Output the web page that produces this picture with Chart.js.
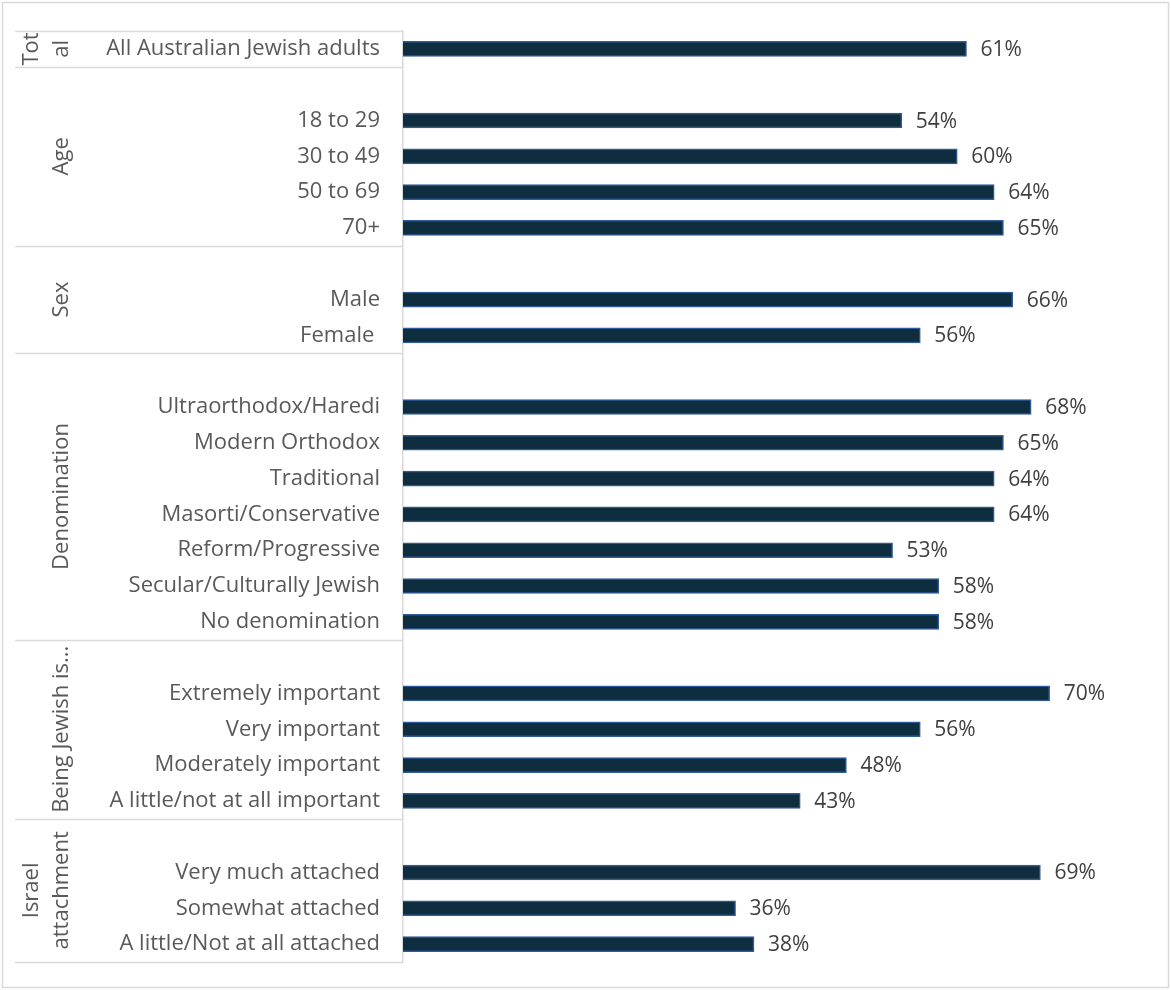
<!DOCTYPE html>
<html lang="en">
<head>
    <meta charset="UTF-8">
    <title>Attachment by group</title>
    <style>
        body { margin: 0; background: #ffffff; }
        #wrap { position: relative; width: 1171px; height: 990px; }
    </style>
</head>
<body>
    <div id="wrap">
        <canvas id="barChart" width="1171" height="990"></canvas>
    </div>

    <script src="https://cdn.jsdelivr.net/npm/chart.js"></script>

    <script>
        // one row per bar, '' / null for the spacer rows between groups
        const categories = [
            'All Australian Jewish adults',
            '', '18 to 29', '30 to 49', '50 to 69', '70+',
            '', 'Male', 'Female ',
            '', 'Ultraorthodox/Haredi', 'Modern Orthodox', 'Traditional', 'Masorti/Conservative',
            'Reform/Progressive', 'Secular/Culturally Jewish', 'No denomination',
            '', 'Extremely important', 'Very important', 'Moderately important', 'A little/not at all important',
            '', 'Very much attached', 'Somewhat attached', 'A little/Not at all attached'
        ];
        const values = [
            61,
            null, 54, 60, 64, 65,
            null, 66, 56,
            null, 68, 65, 64, 64, 53, 58, 58,
            null, 70, 56, 48, 43,
            null, 69, 36, 38
        ];
        // group labels (each inner array = wrapped lines) and how many rows each group spans
        const groupNames = [['Tot', 'al'], ['Age'], ['Sex'], ['Denomination'], ['Being Jewish is...'], ['Israel', 'attachment']];
        const groupSizes = [1, 5, 3, 8, 5, 4];

        const FONT = "'Open Sans', sans-serif";
        const LINE = '#d9d9d9';

        const groupPlugin = {
            id: 'groupPlugin',
            afterDraw(chart) {
                const ctx = chart.ctx;
                const y = chart.scales.y;
                const area = chart.chartArea;
                const step = y.getPixelForValue(1) - y.getPixelForValue(0);
                const left = 15;

                ctx.save();
                // outer frame
                ctx.strokeStyle = LINE;
                ctx.lineWidth = 1.5;
                ctx.strokeRect(2.5, 2.5, chart.width - 5, chart.height - 5);

                // separators + rotated group names
                let row = 0;
                const firstY = Math.round(y.getPixelForValue(0) - step / 2) + 0.5;
                ctx.beginPath();
                ctx.moveTo(left, firstY);
                ctx.lineTo(area.left, firstY);
                ctx.stroke();
                ctx.font = '22px ' + FONT;
                ctx.fillStyle = '#595959';
                ctx.textAlign = 'center';
                ctx.textBaseline = 'middle';
                groupNames.forEach((lines, i) => {
                    const top = y.getPixelForValue(row) - step / 2;
                    row += groupSizes[i];
                    const bottom = y.getPixelForValue(row - 1) + step / 2;
                    const lineY = Math.round(bottom) + 0.5;
                    ctx.beginPath();
                    ctx.moveTo(left, lineY);
                    ctx.lineTo(area.left, lineY);
                    ctx.stroke();

                    const mid = (top + bottom) / 2;
                    const xs = lines.length === 1 ? [62] : [32, 62];
                    lines.forEach((txt, k) => {
                        ctx.save();
                        ctx.translate(xs[k], mid);
                        ctx.rotate(-Math.PI / 2);
                        ctx.fillText(txt, 0, 0);
                        ctx.restore();
                    });
                });

                // value labels at the bar ends
                const meta = chart.getDatasetMeta(0);
                ctx.font = '21px ' + FONT;
                ctx.fillStyle = '#404040';
                ctx.textAlign = 'left';
                meta.data.forEach((bar, i) => {
                    if (values[i] == null) return;
                    ctx.fillText(values[i] + '%', bar.x + 14, bar.y + 1);
                });
                ctx.restore();
            }
        };

        new Chart(document.getElementById('barChart'), {
            type: 'bar',
            data: {
                labels: categories,
                datasets: [{
                    data: values,
                    backgroundColor: '#0e2d3f',
                    borderColor: '#2f5a9c',
                    borderWidth: 1.5,
                    barThickness: 15
                }]
            },
            options: {
                indexAxis: 'y',
                responsive: false,
                animation: false,
                layout: { padding: { top: 31, bottom: 28, left: 15, right: 29 } },
                plugins: { legend: { display: false }, tooltip: { enabled: false } },
                scales: {
                    x: {
                        display: false,
                        min: 0,
                        max: 80
                    },
                    y: {
                        grid: { display: false, drawTicks: true, tickLength: 23 },
                        border: { display: true, color: LINE, width: 1.5 },
                        ticks: {
                            color: '#595959',
                            padding: 0,
                            autoSkip: false,
                            font: { family: FONT, size: 22 }
                        },
                        afterFit(scale) { scale.width = 388; }
                    }
                }
            },
            plugins: [groupPlugin]
        });
    </script>
</body>
</html>
